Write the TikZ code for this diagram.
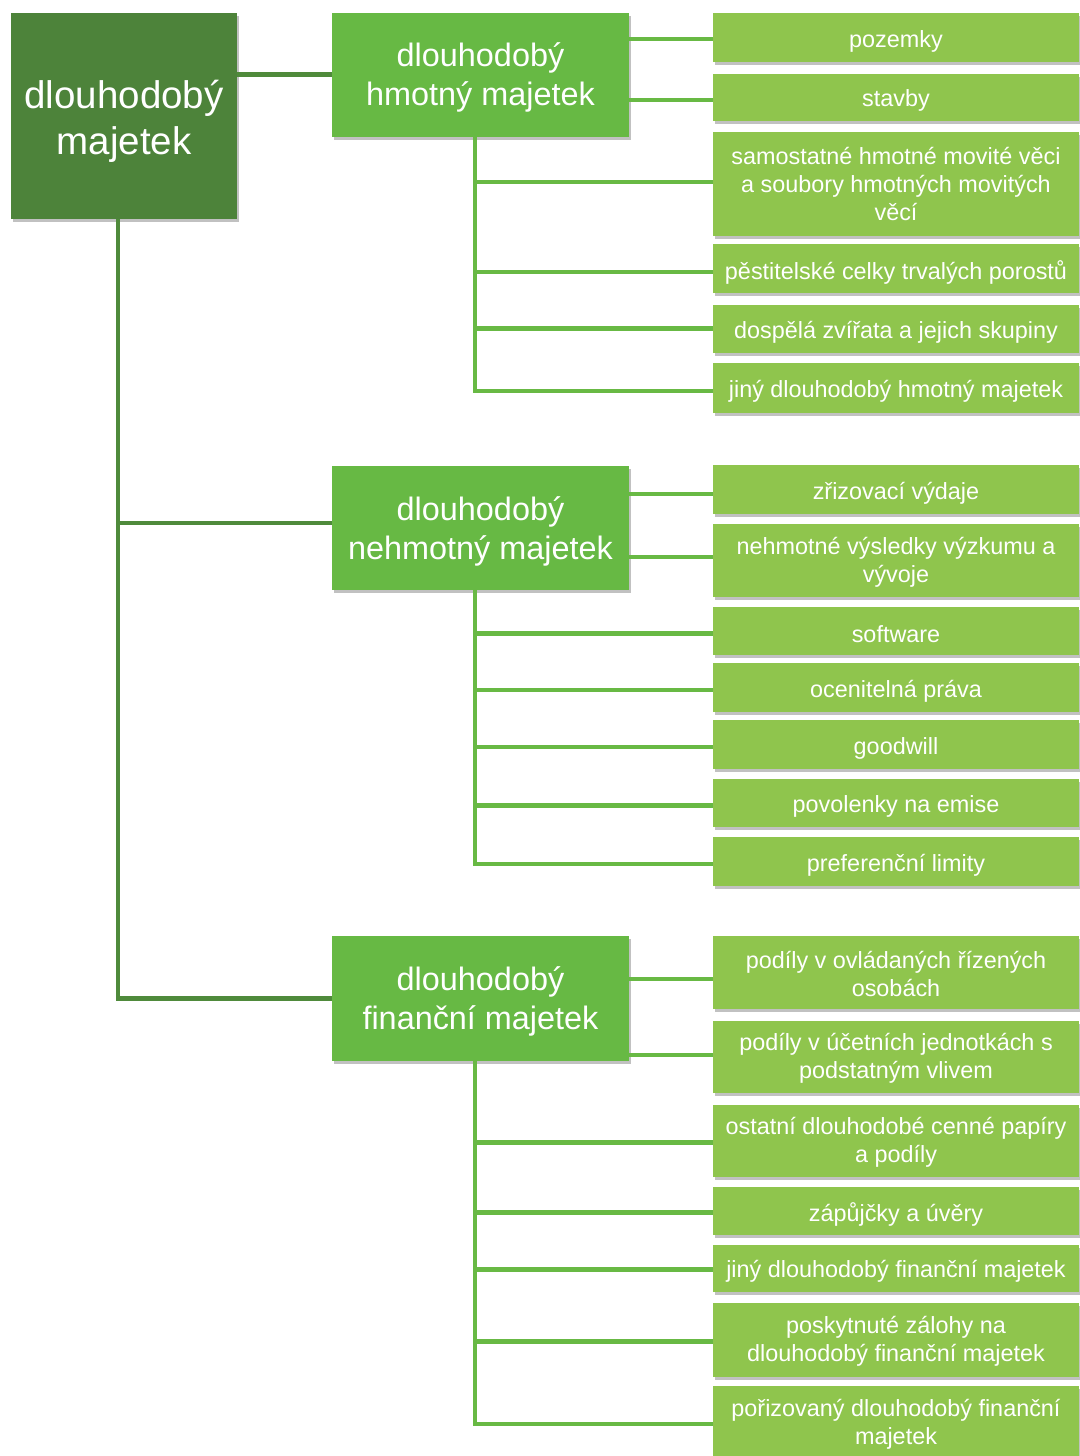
\documentclass[tikz,border=0pt]{standalone}
\usepackage{fontspec}
\setmainfont{Liberation Sans}
\usetikzlibrary{shadows}
\definecolor{rootgreen}{HTML}{4D833A}
\definecolor{midgreen}{HTML}{67B944}
\definecolor{leafgreen}{HTML}{8FC54D}
\definecolor{rootline}{HTML}{4F8A3B}
\definecolor{midline}{HTML}{68B944}
\tikzset{
  box/.style={rectangle, inner sep=0pt,
    drop shadow={shadow xshift=1.5pt, shadow yshift=-3pt, opacity=0.35, fill=black!70}},
  lbl/.style={text=white, align=center, inner sep=0pt},
  rootbox/.style={box, fill=rootgreen, minimum width=226pt, minimum height=206pt,
    label={[lbl, font=\fontsize{38.5}{46}\selectfont, yshift=-5.5pt]center:{#1}}},
  midbox/.style={box, fill=midgreen, minimum width=297pt, minimum height=124pt,
    label={[lbl, font=\fontsize{32.4}{39}\selectfont, yshift=-3pt]center:{#1}}},
  leafbox/.style={box, fill=leafgreen, minimum width=366pt, minimum height=49pt,
    label={[lbl, font=\fontsize{23.4}{28}\selectfont, yshift=-3.5pt]center:{#1}}},
  leafboxii/.style={box, fill=leafgreen, minimum width=366pt, minimum height=73pt,
    label={[lbl, font=\fontsize{23.4}{28}\selectfont, yshift=-1.5pt]center:{#1}}},
  leafboxiii/.style={box, fill=leafgreen, minimum width=366pt, minimum height=104pt,
    label={[lbl, font=\fontsize{23.4}{28}\selectfont]center:{#1}}},
  rl/.style={draw=rootline, line width=4.5pt},
  ml/.style={draw=midline, line width=4.5pt},
}
\begin{document}
\begin{tikzpicture}[x=1pt,y=-1pt]
\useasboundingbox (0,0) rectangle (1079,1456);

\node[rootbox={dlouhodobý\\majetek}] (root) at (124,116) {};
\node[midbox={dlouhodobý\\hmotný majetek}] (m1) at (480.5,74.5) {};
\node[midbox={dlouhodobý\\nehmotný majetek}] (m2) at (480.5,528) {};
\node[midbox={dlouhodobý\\finanční majetek}, minimum height=125pt] (m3) at (480.5,998.5) {};

% group 1
\node[leafbox={pozemky}] (l11) at (896,37.5) {};
\node[leafbox={stavby}, minimum height=47pt] (l12) at (896,97) {};
\node[leafboxiii={samostatné hmotné movité věci\\a soubory hmotných movitých\\věcí}] (l13) at (896,184) {};
\node[leafbox={pěstitelské celky trvalých porostů}] (l14) at (896,268.5) {};
\node[leafbox={dospělá zvířata a jejich skupiny}, minimum height=48pt] (l15) at (896,328.5) {};
\node[leafbox={jiný dlouhodobý hmotný majetek}, minimum height=50pt] (l16) at (896,388) {};

% group 2
\node[leafbox={zřizovací výdaje}] (l21) at (896,489.5) {};
\node[leafboxii={nehmotné výsledky výzkumu a\\vývoje}] (l22) at (896,560.5) {};
\node[leafbox={software}, minimum height=48pt] (l23) at (896,631) {};
\node[leafbox={ocenitelná práva}] (l24) at (896,687.5) {};
\node[leafbox={goodwill}] (l25) at (896,744.5) {};
\node[leafbox={povolenky na emise}, minimum height=48pt] (l26) at (896,803) {};
\node[leafbox={preferenční limity}] (l27) at (896,861.5) {};

% group 3
\node[leafboxii={podíly v ovládaných řízených\\osobách}] (l31) at (896,972.5) {};
\node[leafboxii={podíly v účetních jednotkách s\\podstatným vlivem}, minimum height=72pt] (l32) at (896,1057) {};
\node[leafboxii={ostatní dlouhodobé cenné papíry\\a podíly}, minimum height=72pt] (l33) at (896,1141) {};
\node[leafbox={zápůjčky a úvěry}, minimum height=48pt] (l34) at (896,1211) {};
\node[leafbox={jiný dlouhodobý finanční majetek}, minimum height=47pt] (l35) at (896,1268) {};
\node[leafboxii={poskytnuté zálohy na\\dlouhodobý finanční majetek}, minimum height=74pt] (l36) at (896,1340) {};
\node[leafboxii={pořizovaný dlouhodobý finanční\\majetek}, minimum height=74pt] (l37) at (896,1423) {};

% root connectors
\coordinate (rv) at ([xshift=-6pt]root.south);
\draw[rl] (root.east |- m1.west) -- (m1.west);
\draw[rl] (rv) |- ([yshift=5pt]m2.west);
\draw[rl] ([yshift=5pt]m2.west -| rv) |- (m3.west);

% group 1 connectors
\coordinate (v1) at ([xshift=-5.5pt]m1.south);
\draw[ml] ([yshift=-1.5pt]m1.east |- l11.west) -- ([yshift=-1.5pt]l11.west);
\draw[ml] ([yshift=-3pt]m1.east |- l12.west) -- ([yshift=-3pt]l12.west);
\draw[ml] (v1) |- ([yshift=-3pt]l16.west);
\draw[ml] ([yshift=2pt]v1 |- l13.west) -- ([yshift=2pt]l13.west);
\draw[ml] ([yshift=-3.5pt]v1 |- l14.west) -- ([yshift=-3.5pt]l14.west);
\draw[ml] (v1 |- l15.west) -- (l15.west);

% group 2 connectors
\coordinate (v2) at ([xshift=-5.5pt]m2.south);
\draw[ml] ([yshift=-4.5pt]m2.east |- l21.west) -- ([yshift=-4.5pt]l21.west);
\draw[ml] ([yshift=3.5pt]m2.east |- l22.west) -- ([yshift=3.5pt]l22.west);
\draw[ml] (v2) |- ([yshift=-2.5pt]l27.west);
\foreach \n in {l23,l24,l25,l26} \draw[ml] ([yshift=-2.5pt]v2 |- \n.west) -- ([yshift=-2.5pt]\n.west);

% group 3 connectors
\coordinate (v3) at ([xshift=-5.5pt]m3.south);
\draw[ml] ([yshift=-6.5pt]m3.east |- l31.west) -- ([yshift=-6.5pt]l31.west);
\draw[ml] ([yshift=2pt]m3.east |- l32.west) -- ([yshift=2pt]l32.west);
\draw[ml] (v3) |- ([yshift=-1pt]l37.west);
\foreach \n in {l33,l34,l35,l36} \draw[ml] ([yshift=-1.5pt]v3 |- \n.west) -- ([yshift=-1.5pt]\n.west);
\end{tikzpicture}
\end{document}
